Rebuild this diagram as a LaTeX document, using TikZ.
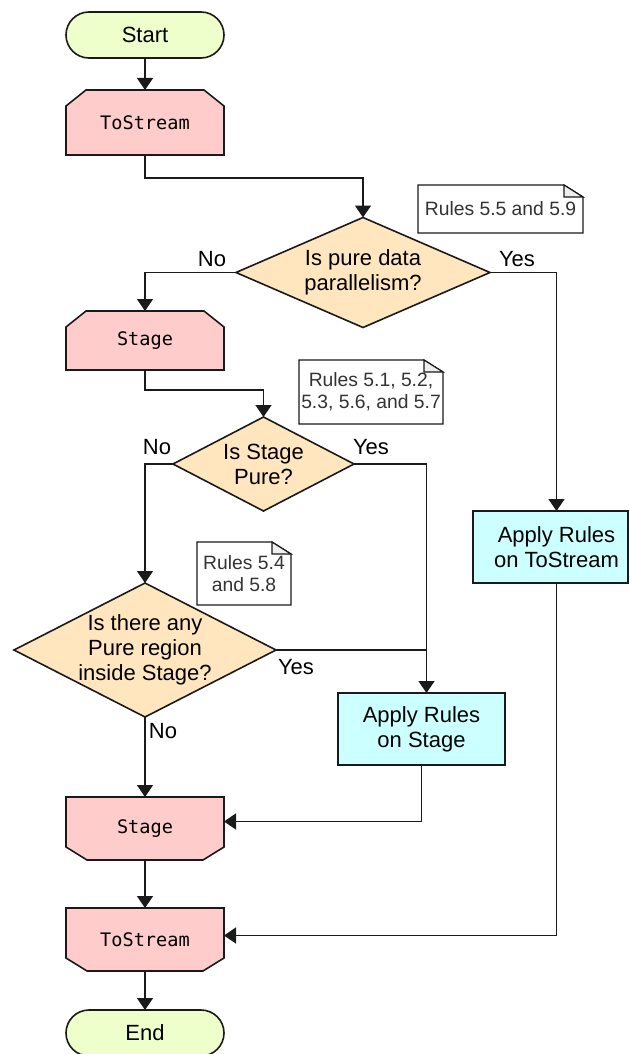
\documentclass[tikz,border=0pt]{standalone}
\usepackage{fontspec}
\setmainfont{Liberation Sans}
\setmonofont{DejaVu Sans Mono}
\usetikzlibrary{arrows.meta,shapes.geometric}

\definecolor{termfill}{HTML}{EEFFCC}
\definecolor{procfill}{HTML}{FFCCCC}
\definecolor{decfill}{HTML}{FFE6BF}
\definecolor{applyfill}{HTML}{CCFFFF}
\definecolor{edgecol}{HTML}{1A1A1A}
\definecolor{notetext}{HTML}{333333}
\definecolor{earfill}{HTML}{EEEEEE}

\pgfdeclarelayer{bg}
\pgfsetlayers{bg,main}

\tikzset{
  mainfont/.style={font=\fontsize{22}{25}\selectfont},
  terminal/.style={rectangle, draw=edgecol, line width=1.6pt, fill=termfill,
    rounded corners=23pt, minimum width=158pt, minimum height=46pt,
    inner sep=0pt, outer sep=0pt, mainfont},
  procbox/.style={rectangle, minimum width=158pt, inner sep=0pt, outer sep=0pt,
    font=\fontsize{18.6}{22}\selectfont\ttfamily},
  procline/.style={draw=edgecol, line width=1.6pt, fill=procfill, line join=miter},
  decision/.style={diamond, draw=edgecol, line width=1.6pt, fill=decfill,
    inner sep=0pt, outer sep=0pt},
  dectext/.style={align=center, inner sep=0pt, mainfont},
  applybox/.style={rectangle, draw=edgecol, line width=1.6pt, fill=applyfill,
    inner sep=0pt, outer sep=0pt, minimum height=72pt, align=center, mainfont},
  notebox/.style={rectangle, inner sep=0pt, outer sep=0pt, align=center,
    text=notetext, font=\fontsize{19.3}{22}\selectfont},
  noteline/.style={draw=edgecol, line width=1.2pt, fill=white, line join=miter},
  branch/.style={inner sep=0pt, mainfont},
  conn/.style={draw=edgecol, line width=1.5pt,
    -{Triangle[width=16pt,length=12pt]}},
  plainline/.style={draw=edgecol, line width=1.5pt},
}

% outline of a box with its two upper corners cut off
\newcommand\chamtop[1]{%
  \begin{pgfonlayer}{bg}
    \path[procline] (#1.south west) -- ([yshift=-16pt]#1.north west)
      -- ([xshift=20pt]#1.north west) -- ([xshift=-20pt]#1.north east)
      -- ([yshift=-16pt]#1.north east) -- (#1.south east) -- cycle;
  \end{pgfonlayer}}
% outline of a box with its two lower corners cut off
\newcommand\chambot[1]{%
  \begin{pgfonlayer}{bg}
    \path[procline] (#1.north west) -- (#1.north east)
      -- ([yshift=13pt]#1.south east) -- ([xshift=-21pt]#1.south east)
      -- ([xshift=21pt]#1.south west) -- ([yshift=13pt]#1.south west) -- cycle;
  \end{pgfonlayer}}
% note sheet with a folded upper right corner
\newcommand\notesheet[1]{%
  \begin{pgfonlayer}{bg}
    \path[noteline] (#1.south west) -- (#1.north west)
      -- ([xshift=-19pt]#1.north east) -- ([yshift=-12pt]#1.north east)
      -- (#1.south east) -- cycle;
    \path[noteline, fill=earfill] ([xshift=-19pt]#1.north east)
      -- ([xshift=-19pt,yshift=-12pt]#1.north east)
      -- ([yshift=-12pt]#1.north east) -- cycle;
  \end{pgfonlayer}}

\begin{document}
\begin{tikzpicture}[x=1pt, y=-1pt]
  \useasboundingbox (0,0) rectangle (629,1054);
  \clip (0,0) rectangle (629,1054);

  % main column
  \node[terminal] (start) at (145,35) {Start};
  \node[procbox, minimum height=65pt] (to1) at (145,122.5) {ToStream};
  \chamtop{to1}
  \node[decision, minimum width=254pt, minimum height=110pt] (d1) at (363,272.5) {};
  \node[dectext] (d1t) at (d1) {Is pure data\\parallelism?};
  \node[procbox, minimum height=59pt] (st1) at (145,340.5) {Stage};
  \chamtop{st1}
  \node[decision, minimum width=181pt, minimum height=94pt] (d2) at (263.5,464) {};
  \node[dectext] (d2t) at (d2) {Is Stage\\Pure?};
  \node[decision, minimum width=262pt, minimum height=134pt] (d3) at (145,650) {};
  \node[dectext] (d3t) at (d3) {Is there any\\Pure region\\inside Stage?};
  \node[procbox, minimum height=63pt] (st2) at (145,828.5) {Stage};
  \chambot{st2}
  \node[procbox, minimum height=63pt] (to2) at (145,939.5) {ToStream};
  \chambot{to2}
  \node[terminal] (end) at (145,1033) {End};

  % rule application boxes
  \node[applybox, minimum width=167pt] (ars) at (421.5,729) {Apply Rules\\on Stage};
  \node[applybox, minimum width=155pt,
    label={[name=aprtt, align=center, mainfont, xshift=6pt]center:Apply Rules\\on ToStream}]
    (aprt) at (550.5,547) {};

  % notes
  \node[notebox, minimum width=165pt, minimum height=48pt] (n1) at (500.5,209) {Rules 5.5 and 5.9};
  \notesheet{n1}
  \node[notebox, minimum width=144pt, minimum height=64pt] (n2) at (371,392) {Rules 5.1, 5.2,\\5.3, 5.6, and 5.7};
  \notesheet{n2}
  \node[notebox, minimum width=94pt, minimum height=63pt] (n3) at (244,573.5) {Rules 5.4\\and 5.8};
  \notesheet{n3}

  % entry and exit points on the rule boxes
  \coordinate (arsin) at ([xshift=5pt]ars.north);
  \coordinate (aprtin) at ([xshift=6pt]aprt.north);
  \coordinate (aprtout) at ([xshift=6pt]aprt.south);

  % connectors
  \draw[conn] (start.south) -- (to1.north);
  \draw[conn] (to1.south) -- ++(0,23) -| (d1.north);
  \draw[conn] (d1.west) -| (st1.north);
  \draw[conn] (d1.east) -| (aprtin);
  \draw[conn] (st1.south) -- ++(0,20) -| (d2.north);
  \draw[conn] (d2.west) -| (d3.north);
  \draw[conn] (d2.east) -| (arsin);
  \draw[plainline] (d3.east) -- (d3.east -| arsin);
  \draw[conn] (d3.south) -- (st2.north);
  \draw[conn] (ars.south) |- ([yshift=7pt]st2.east);
  \draw[conn] (st2.south) -- (to2.north);
  \draw[conn] (aprtout) |- ([yshift=4pt]to2.east);
  \draw[conn] (to2.south) -- (end.north);

  % branch labels
  \node[branch] (no1) at (212,259) {No};
  \node[branch] (yes1) at (517,259) {Yes};
  \node[branch] (no2) at (157,447) {No};
  \node[branch] (yes2) at (371,447) {Yes};
  \node[branch] (yes3) at (296,667) {Yes};
  \node[branch] (no3) at (163,731) {No};
\end{tikzpicture}
\end{document}
